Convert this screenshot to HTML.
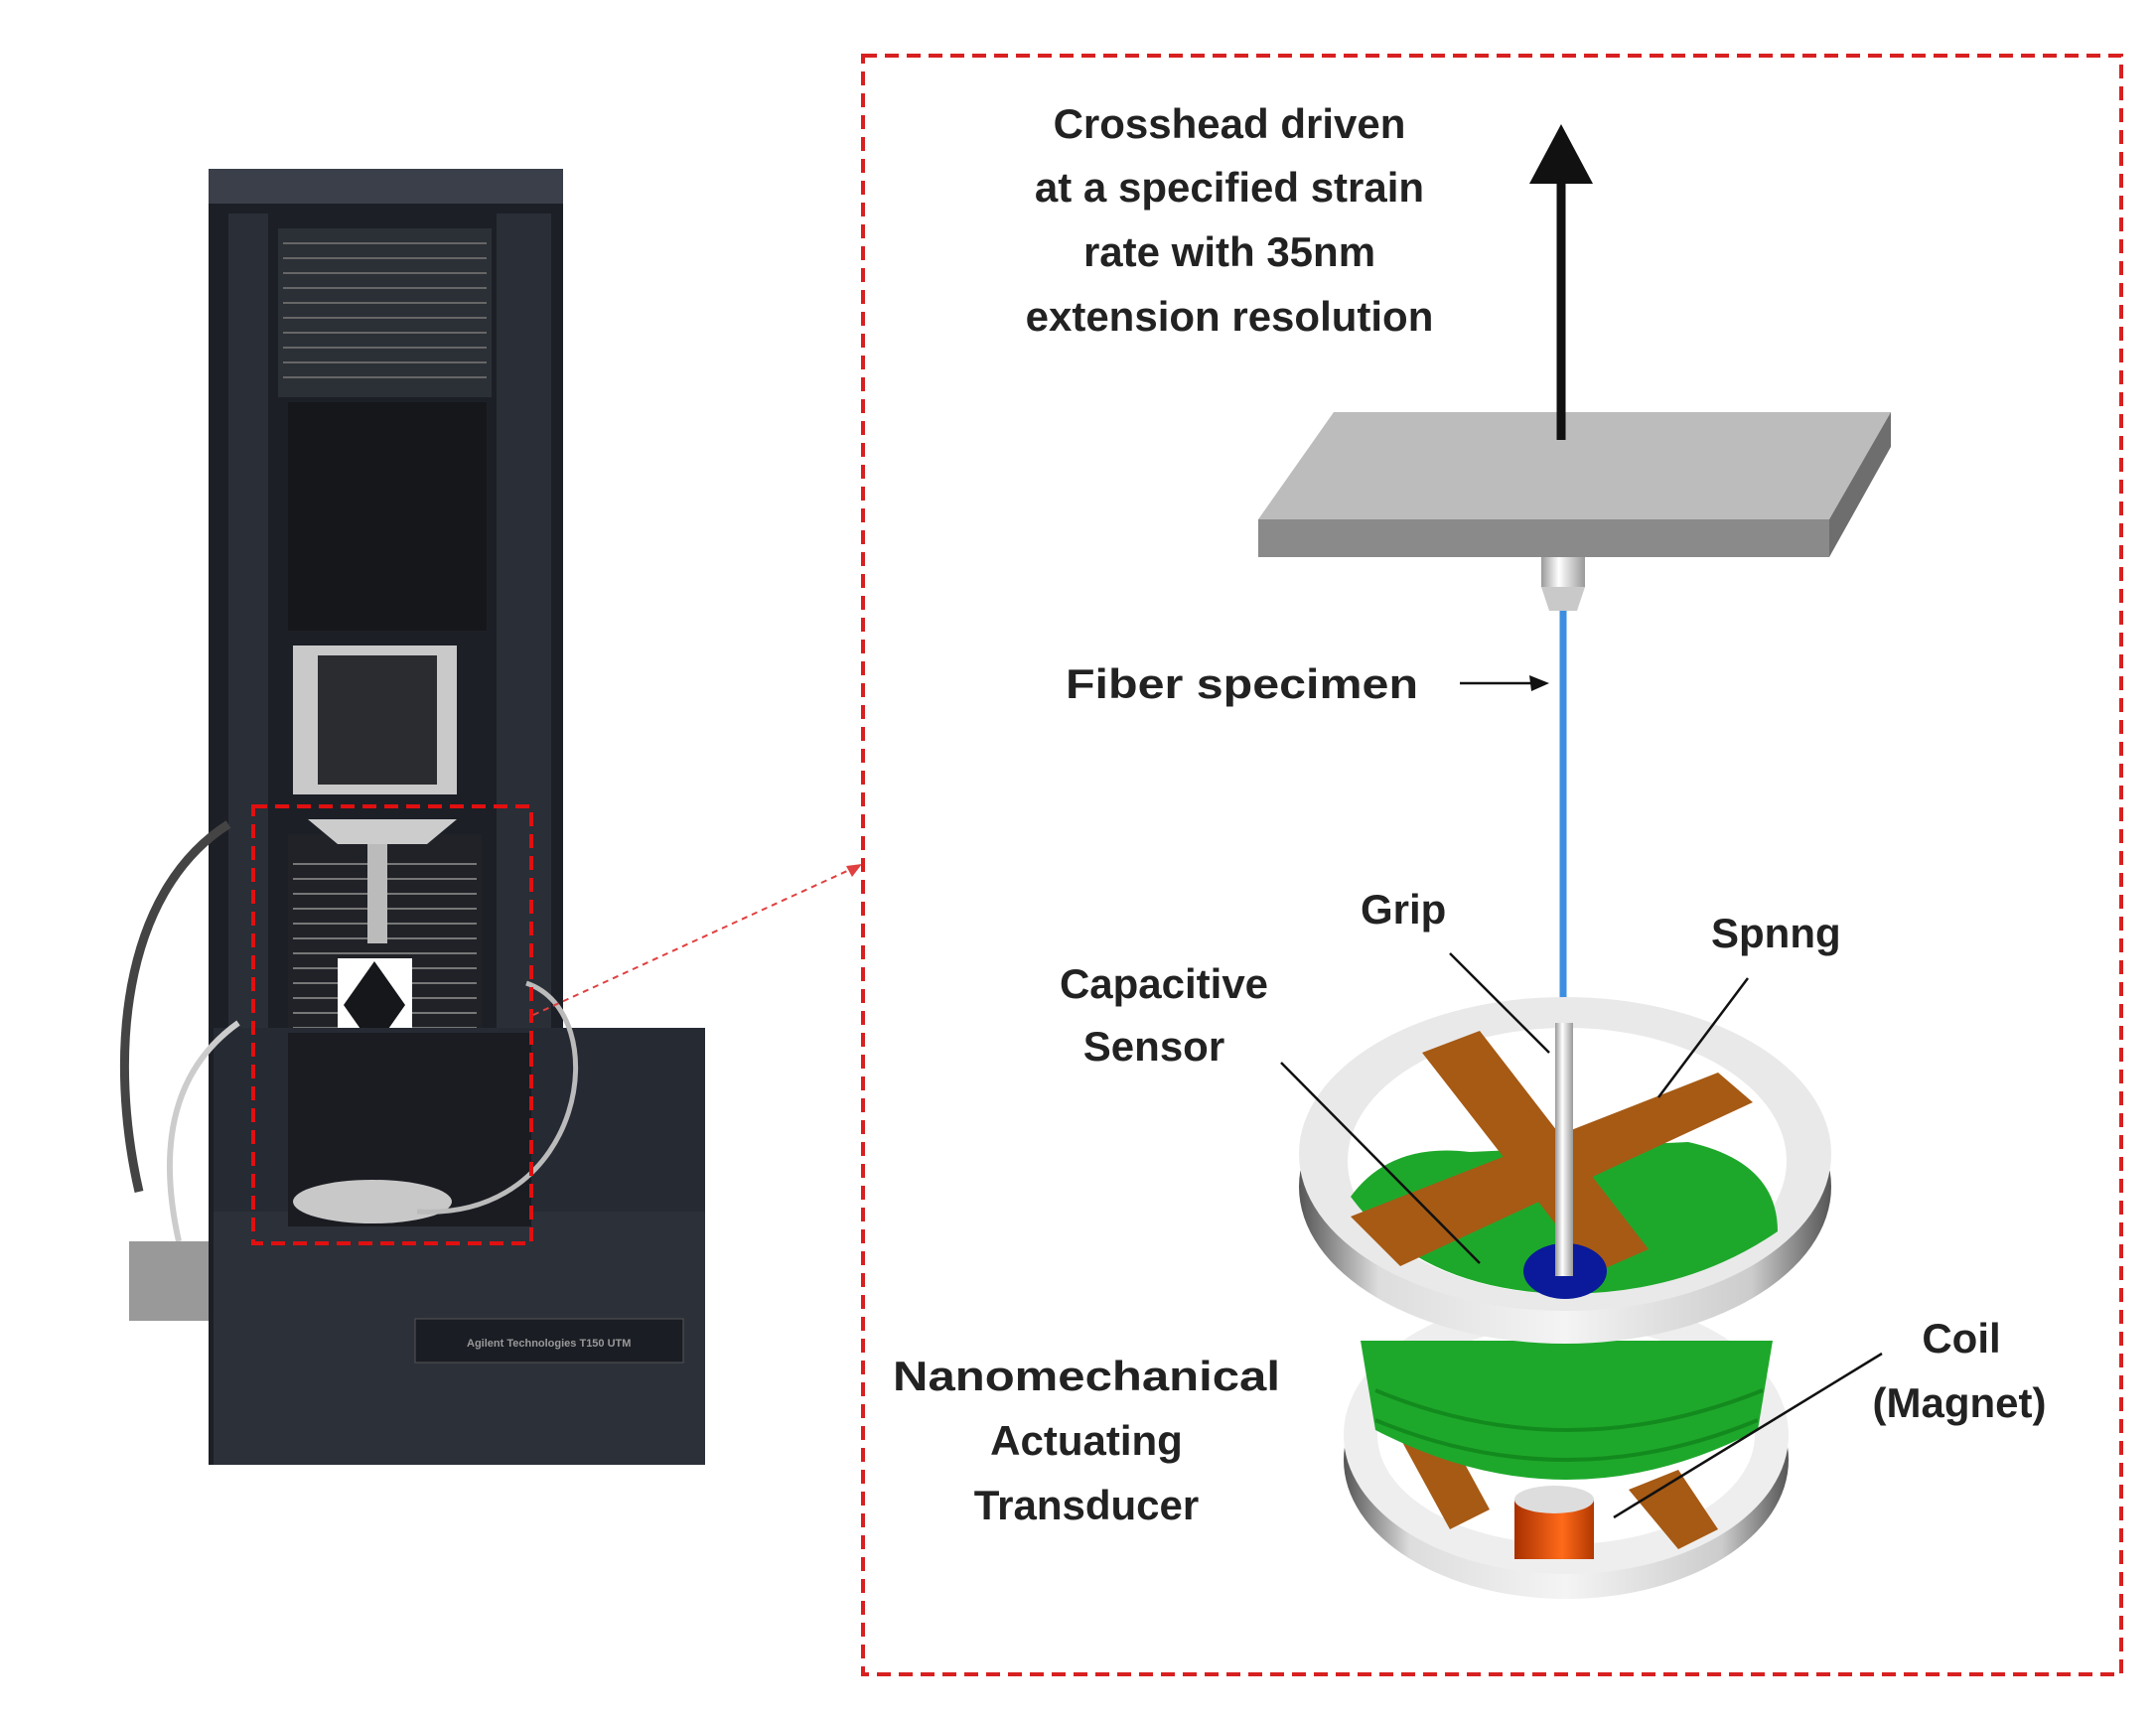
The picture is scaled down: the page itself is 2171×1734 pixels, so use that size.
<!DOCTYPE html>
<html><head><meta charset="utf-8"><style>
html,body{margin:0;padding:0;background:#fff;}
svg{display:block}
text{font-family:"Liberation Sans",sans-serif;font-weight:bold;fill:#222}
</style></head><body>
<svg width="2171" height="1734" viewBox="0 0 2171 1734" xmlns="http://www.w3.org/2000/svg">
<defs>
<linearGradient id="ring" x1="0" x2="1" y1="0" y2="0">
<stop offset="0" stop-color="#555"/><stop offset="0.15" stop-color="#ddd"/><stop offset="0.5" stop-color="#f4f4f4"/><stop offset="0.85" stop-color="#ccc"/><stop offset="1" stop-color="#555"/></linearGradient>
<linearGradient id="col" x1="0" x2="1"><stop offset="0" stop-color="#999"/><stop offset="0.4" stop-color="#fff"/><stop offset="1" stop-color="#999"/></linearGradient>
<linearGradient id="mag" x1="0" x2="1"><stop offset="0" stop-color="#a83000"/><stop offset="0.6" stop-color="#ff6a1a"/><stop offset="1" stop-color="#b03800"/></linearGradient>
</defs>

<!-- machine -->
<rect x="210" y="170" width="357" height="40" fill="#3a3f4a"/>
<rect x="210" y="205" width="357" height="1270" fill="#1c1f26"/>
<rect x="230" y="215" width="40" height="830" fill="#2a2e36"/>
<rect x="500" y="215" width="55" height="830" fill="#2a2e36"/>
<rect x="280" y="230" width="215" height="170" fill="#2b2f36"/>
<g stroke="#666" stroke-width="2">
<line x1="285" y1="245" x2="490" y2="245"/><line x1="285" y1="260" x2="490" y2="260"/><line x1="285" y1="275" x2="490" y2="275"/><line x1="285" y1="290" x2="490" y2="290"/><line x1="285" y1="305" x2="490" y2="305"/><line x1="285" y1="320" x2="490" y2="320"/><line x1="285" y1="335" x2="490" y2="335"/><line x1="285" y1="350" x2="490" y2="350"/><line x1="285" y1="365" x2="490" y2="365"/><line x1="285" y1="380" x2="490" y2="380"/></g>
<rect x="290" y="405" width="200" height="230" fill="#15171b"/>
<rect x="295" y="650" width="165" height="150" fill="#c9c9c9"/>
<rect x="320" y="660" width="120" height="130" fill="#2a2c30"/>
<rect x="290" y="840" width="195" height="330" fill="#202228"/>
<g stroke="#777" stroke-width="2">
<line x1="295" y1="870" x2="480" y2="870"/><line x1="295" y1="885" x2="480" y2="885"/><line x1="295" y1="900" x2="480" y2="900"/><line x1="295" y1="915" x2="480" y2="915"/><line x1="295" y1="930" x2="480" y2="930"/><line x1="295" y1="945" x2="480" y2="945"/><line x1="295" y1="960" x2="480" y2="960"/><line x1="295" y1="975" x2="480" y2="975"/><line x1="295" y1="990" x2="480" y2="990"/><line x1="295" y1="1005" x2="480" y2="1005"/><line x1="295" y1="1020" x2="480" y2="1020"/><line x1="295" y1="1035" x2="480" y2="1035"/><line x1="295" y1="1050" x2="480" y2="1050"/><line x1="295" y1="1065" x2="480" y2="1065"/><line x1="295" y1="1080" x2="480" y2="1080"/><line x1="295" y1="1095" x2="480" y2="1095"/><line x1="295" y1="1110" x2="480" y2="1110"/><line x1="295" y1="1125" x2="480" y2="1125"/></g>
<path d="M310 825 L460 825 L430 850 L340 850 Z" fill="#ccc"/>
<rect x="370" y="850" width="20" height="100" fill="#bbb"/>
<rect x="340" y="965" width="75" height="95" fill="#fff"/>
<path d="M377 968 L408 1012 L377 1056 L346 1012 Z" fill="#15171b"/>
<rect x="215" y="1035" width="495" height="440" fill="#2c3039"/>
<rect x="215" y="1035" width="495" height="185" fill="#262a33"/>
<rect x="290" y="1040" width="245" height="195" fill="#1a1c22"/>
<ellipse cx="375" cy="1210" rx="80" ry="22" fill="#c8c8c8"/>
<path d="M530 990 C620 1020 590 1230 420 1220" stroke="#bbb" stroke-width="5" fill="none"/>
<path d="M230 830 C120 900 110 1070 140 1200" stroke="#444" stroke-width="9" fill="none"/>
<path d="M240 1030 C170 1080 160 1160 180 1250" stroke="#ccc" stroke-width="6" fill="none"/>
<rect x="130" y="1250" width="80" height="80" fill="#999"/>
<rect x="418" y="1328" width="270" height="44" fill="#1a1d24" stroke="#555"/>
<text x="470" y="1356" font-size="11" style="fill:#999">Agilent Technologies    T150 UTM</text>
<rect x="255" y="812" width="280" height="440" fill="none" stroke="#e01010" stroke-width="4" stroke-dasharray="14,8"/>
<line x1="537" y1="1022" x2="864" y2="872" stroke="#e04040" stroke-width="2" stroke-dasharray="6,5"/>
<path d="M868 870 L852 872 L858 883 Z" fill="#e04040"/>

<!-- right box -->
<rect x="869" y="56" width="1267" height="1630" fill="none" stroke="#d82020" stroke-width="4" stroke-dasharray="14,8"/>
<g font-size="42" text-anchor="middle">
<text x="1238" y="139">Crosshead driven</text>
<text x="1238" y="203">at a specified strain</text>
<text x="1238" y="268">rate with 35nm</text>
<text x="1238" y="333">extension resolution</text>
</g>
<line x1="1572" y1="443" x2="1572" y2="180" stroke="#111" stroke-width="9"/>
<path d="M1540 185 L1572 125 L1604 185 Z" fill="#111"/>
<!-- plate -->
<path d="M1267 523 L1343 415 L1904 415 L1842 523 Z" fill="#bcbcbc"/>
<path d="M1267 523 L1842 523 L1842 561 L1267 561 Z" fill="#8a8a8a"/>
<path d="M1842 523 L1904 415 L1904 450 L1842 561 Z" fill="#6e6e6e"/>
<line x1="1572" y1="443" x2="1572" y2="415" stroke="#111" stroke-width="9"/>
<rect x="1552" y="561" width="44" height="30" fill="url(#col)"/>
<path d="M1552 591 L1596 591 L1588 615 L1560 615 Z" fill="#c9c9c9"/>
<line x1="1574" y1="615" x2="1574" y2="1030" stroke="#3d8ee0" stroke-width="7"/>
<text x="1073" y="703" font-size="42" textLength="355" lengthAdjust="spacingAndGlyphs">Fiber specimen</text>
<line x1="1470" y1="688" x2="1548" y2="688" stroke="#111" stroke-width="2.5"/>
<path d="M1560 688 L1540 680 L1542 696 Z" fill="#111"/>

<!-- lower ring -->
<ellipse cx="1577" cy="1470" rx="224" ry="140" fill="url(#ring)"/>
<ellipse cx="1577" cy="1445" rx="224" ry="140" fill="#eee"/>
<ellipse cx="1577" cy="1445" rx="190" ry="110" fill="#fff"/>
<path d="M1400 1430 L1440 1410 L1500 1520 L1460 1540 Z" fill="#a65a14"/>
<path d="M1640 1500 L1690 1480 L1730 1540 L1690 1560 Z" fill="#a65a14"/>
<rect x="1525" y="1510" width="80" height="60" fill="url(#mag)"/>
<ellipse cx="1565" cy="1510" rx="40" ry="14" fill="#ddd"/>
<!-- coil -->
<path d="M1370 1350 L1785 1350 L1770 1440 Q1577 1540 1385 1440 Z" fill="#1ea82b"/>
<path d="M1385 1400 Q1577 1480 1775 1400" stroke="#138a1e" stroke-width="4" fill="none"/>
<path d="M1385 1430 Q1577 1510 1770 1430" stroke="#138a1e" stroke-width="4" fill="none"/>
<!-- upper ring -->
<ellipse cx="1576" cy="1195" rx="268" ry="158" fill="url(#ring)"/>
<ellipse cx="1576" cy="1162" rx="268" ry="158" fill="#e9e9e9"/>
<ellipse cx="1578" cy="1169" rx="221" ry="134" fill="#fff"/>
<path d="M1360 1205 Q1400 1150 1480 1160 L1700 1150 Q1790 1170 1790 1240 Q1700 1302 1578 1303 Q1430 1300 1360 1205 Z" fill="#1ea82b"/>
<!-- spring cross -->
<path d="M1432 1060 L1490 1038 L1660 1258 L1605 1282 Z" fill="#a65a14"/>
<path d="M1360 1225 L1730 1080 L1765 1110 L1410 1275 Z" fill="#a65a14"/>
<ellipse cx="1576" cy="1280" rx="42" ry="28" fill="#0a1a9a"/>
<rect x="1566" y="1030" width="18" height="255" fill="url(#col)"/>
<!-- leaders -->
<g stroke="#111" stroke-width="2.5">
<line x1="1460" y1="960" x2="1560" y2="1060"/>
<line x1="1760" y1="985" x2="1670" y2="1105"/>
<line x1="1290" y1="1070" x2="1490" y2="1272"/>
<line x1="1895" y1="1363" x2="1625" y2="1528"/>
</g>
<text x="1370" y="930" font-size="42">Grip</text>
<text x="1723" y="954" font-size="42">Spnng</text>
<g font-size="42" text-anchor="middle">
<text x="1172" y="1005">Capacitive</text>
<text x="1162" y="1068">Sensor</text>
<text x="1975" y="1362">Coil</text>
<text x="1973" y="1427">(Magnet)</text>
<text x="1094" y="1400" textLength="390" lengthAdjust="spacingAndGlyphs">Nanomechanical</text>
<text x="1094" y="1465">Actuating</text>
<text x="1094" y="1530">Transducer</text>
</g>
</svg>
</body></html>
